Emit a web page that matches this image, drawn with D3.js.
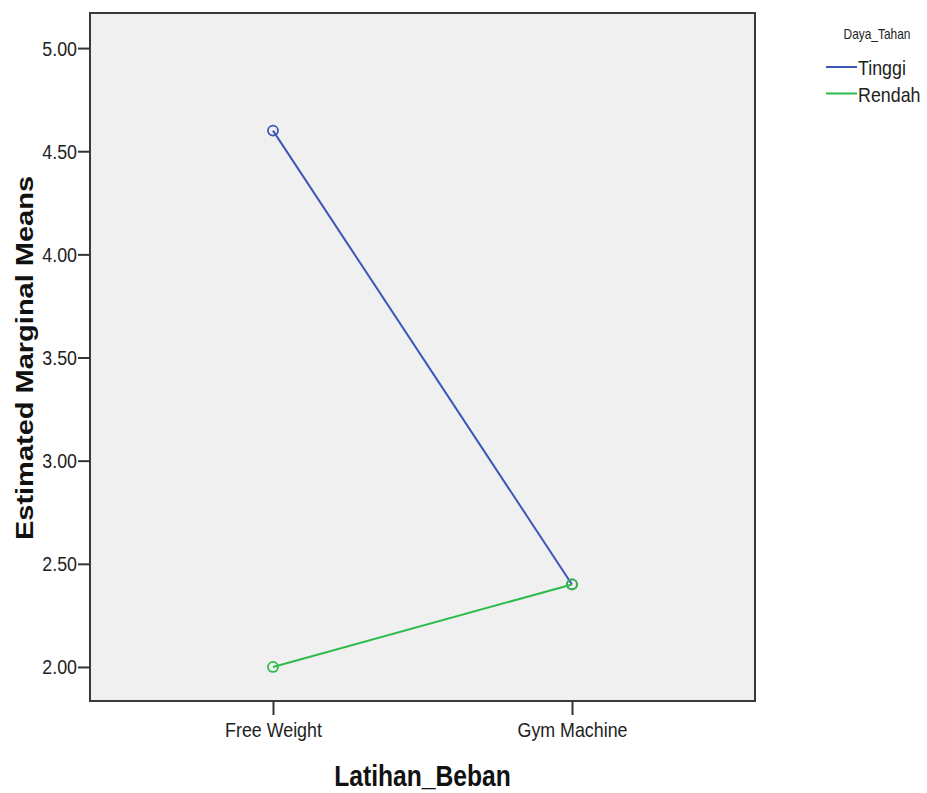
<!DOCTYPE html>
<meta charset="utf-8">
<script src="https://d3js.org/d3.v7.min.js"></script>
<style>
  body { margin: 0; background: #fff; }
  text { font-family: "Liberation Sans", Arial, sans-serif; fill: #222; }
</style>
<div id="chart"></div>
<script>

// data
var categories = ["Free Weight", "Gym Machine"];
var seriesNames = ["Tinggi", "Rendah"];
var tinggi = [4.60, 2.40];
var rendah = [2.00, 2.40];
var yTicks = [2.00, 2.50, 3.00, 3.50, 4.00, 4.50, 5.00];
var yLimits = [1.835, 5.17];
var colors = ["#3d56b8", "#2fbb4b"];

var series = [
  {name: seriesNames[0], values: tinggi, color: colors[0]},
  {name: seriesNames[1], values: rendah, color: colors[1]}
];

var width = 927, height = 793;
var plot = {left: 90, right: 755, top: 13, bottom: 701};
var sx = 0.85; // glyphs in the original are squeezed horizontally

var svg = d3.select("#chart")
  .append("svg")
    .attr("width", width)
    .attr("height", height);

var x = d3.scalePoint()
  .domain(categories)
  .range([plot.left, plot.right])
  .padding(0.612);

var y = d3.scaleLinear()
  .domain(yLimits)
  .range([plot.bottom, plot.top]);

// plot background + frame
svg.append("rect")
  .attr("x", plot.left)
  .attr("y", plot.top)
  .attr("width", plot.right - plot.left)
  .attr("height", plot.bottom - plot.top)
  .attr("fill", "#f0f0f0")
  .attr("stroke", "#3a3a3a")
  .attr("stroke-width", 2);

// Y axis
var yAxis = svg.append("g")
  .attr("transform", "translate(" + plot.left + ",0)")
  .call(d3.axisLeft(y).tickValues(yTicks).tickSize(12).tickPadding(2).tickFormat(d3.format(".2f")));
yAxis.select(".domain").remove();
yAxis.selectAll(".tick line").attr("stroke", "#333").attr("stroke-width", 2);
yAxis.selectAll(".tick text")
  .attr("x", null).attr("dy", null)
  .attr("font-size", 21)
  .attr("text-anchor", "end")
  .attr("transform", "translate(-13,7) scale(" + sx + ",1)");

// X axis
var xAxis = svg.append("g")
  .attr("transform", "translate(0," + plot.bottom + ")")
  .call(d3.axisBottom(x).tickSize(14).tickPadding(0));
xAxis.select(".domain").remove();
xAxis.selectAll(".tick line").attr("stroke", "#333").attr("stroke-width", 2);
xAxis.selectAll(".tick text")
  .attr("y", null).attr("dy", null)
  .attr("font-size", 21)
  .attr("text-anchor", "middle")
  .attr("transform", "translate(0,36) scale(" + sx + ",1)");

// axis titles
svg.append("text")
  .attr("transform", "translate(" + (plot.left + plot.right) / 2 + ",786) scale(" + sx + ",1)")
  .attr("text-anchor", "middle")
  .attr("font-size", 29)
  .attr("font-weight", "bold")
  .style("fill", "#111")
  .text("Latihan_Beban");

svg.append("text")
  .attr("transform", "translate(33,358) scale(" + sx + ",1) rotate(-90)")
  .attr("text-anchor", "middle")
  .attr("font-size", 29)
  .attr("font-weight", "bold")
  .style("fill", "#111")
  .text("Estimated Marginal Means");

// lines + markers
var line = d3.line()
  .x(function(d, i) { return x(categories[i]); })
  .y(function(d) { return y(d); });

var g = svg.selectAll(".series")
  .data(series)
  .enter().append("g")
    .attr("class", "series");

g.append("path")
  .attr("d", function(d) { return line(d.values); })
  .attr("fill", "none")
  .attr("stroke", function(d) { return d.color; })
  .attr("stroke-width", 2);

g.selectAll("circle")
  .data(function(d) { return d.values.map(function(v, i) { return {v: v, i: i, color: d.color}; }); })
  .enter().append("circle")
    .attr("cx", function(d) { return x(categories[d.i]); })
    .attr("cy", function(d) { return y(d.v); })
    .attr("r", 5)
    .attr("fill", "none")
    .attr("stroke", function(d) { return d.color; })
    .attr("stroke-width", 1.8);

// legend
svg.append("text")
  .attr("transform", "translate(877,39) scale(" + sx + ",1)")
  .attr("text-anchor", "middle")
  .attr("font-size", 14)
  .text("Daya_Tahan");

var leg = svg.selectAll(".leg")
  .data(series)
  .enter().append("g")
    .attr("class", "leg")
    .attr("transform", function(d, i) { return "translate(826," + (67 + i * 26.5) + ")"; });

leg.append("line")
  .attr("x1", 0).attr("x2", 31)
  .attr("stroke", function(d) { return d.color; })
  .attr("stroke-width", 2);

leg.append("text")
  .attr("transform", "translate(32,8) scale(" + sx + ",1)")
  .attr("font-size", 21)
  .text(function(d) { return d.name; });

</script>
